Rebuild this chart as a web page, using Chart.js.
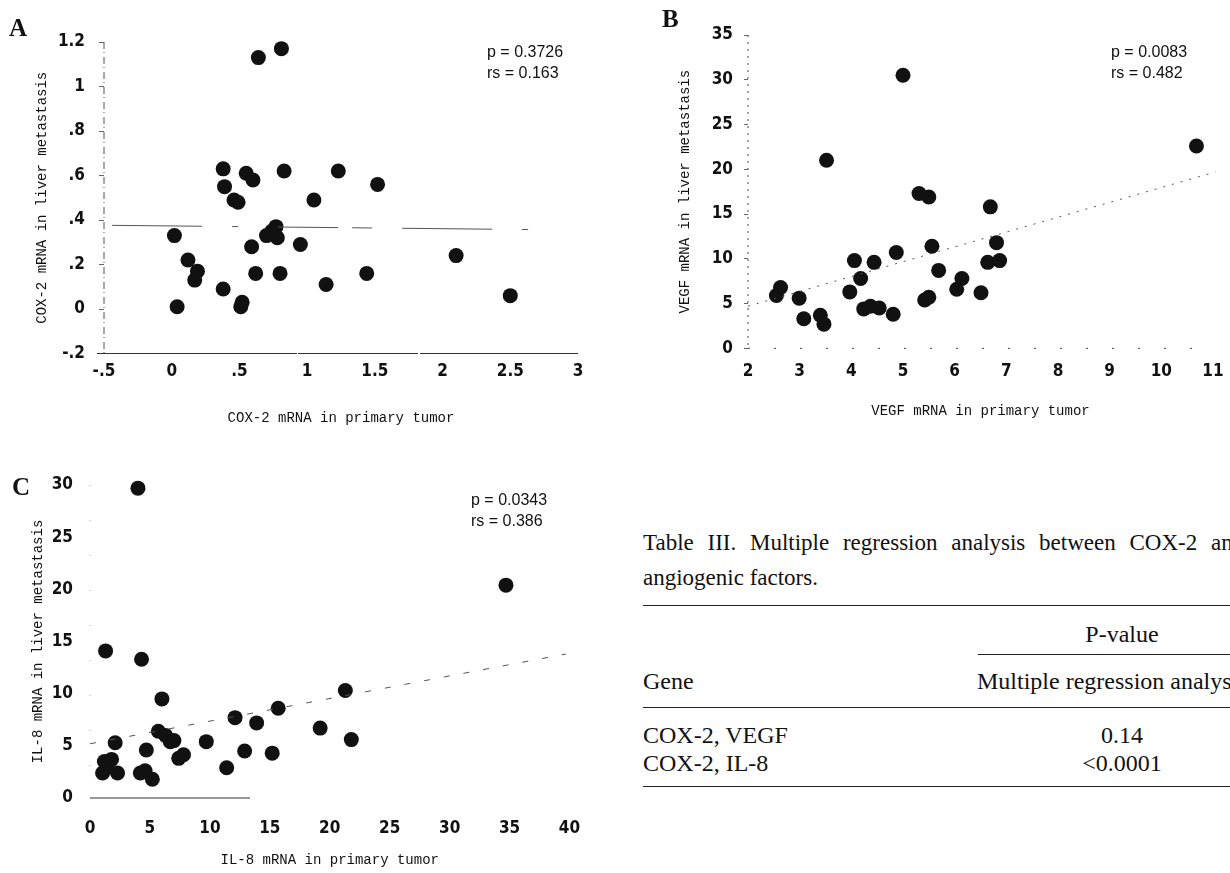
<!DOCTYPE html>
<html>
<head>
<meta charset="utf-8">
<title>COX-2, VEGF and IL-8 mRNA: primary tumor vs liver metastasis</title>
<script src="https://cdn.jsdelivr.net/npm/chart.js@4.4.1/dist/chart.umd.min.js"></script>
<style>
  body { margin: 0; background: #fff; }
  #page { position: relative; width: 1230px; height: 873px; overflow: hidden; background: #fff; color: #111; }
  canvas { position: absolute; }
  .letter { position: absolute; font-family: 'Liberation Serif', 'Times New Roman', serif; font-weight: bold; font-size: 25px; line-height: 25px; }
  .stat { position: absolute; font-family: 'Liberation Sans', Arial, sans-serif; font-size: 16px; line-height: 21px; white-space: pre; }
  .tbl { position: absolute; font-family: 'Liberation Serif', 'Times New Roman', serif; font-size: 24px; line-height: 28px; white-space: nowrap; }
  .caption { font-size: 23px; line-height: 26px; }
  .justified { word-spacing: 8px; }
  .center { width: 200px; text-align: center; }
  .rule { position: absolute; height: 0; border-top: 1.3px solid #222; }
</style>
</head>
<body>
<div id="page">
  <canvas id="chartA" width="600" height="440" style="left:0;top:0"></canvas>
  <canvas id="chartB" width="610" height="440" style="left:620px;top:0"></canvas>
  <canvas id="chartC" width="600" height="433" style="left:0;top:440px"></canvas>

  <div class="letter" style="left:9px;top:15px">A</div>
  <div class="letter" style="left:662px;top:6px">B</div>
  <div class="letter" style="left:12px;top:474px">C</div>

  <div class="stat" style="left:487px;top:41px">p = 0.3726
rs = 0.163</div>
  <div class="stat" style="left:1111px;top:41px">p = 0.0083
rs = 0.482</div>
  <div class="stat" style="left:471px;top:489px">p = 0.0343
rs = 0.386</div>

  <div class="tbl caption justified" style="left:643px;top:530px">Table III. Multiple regression analysis between COX-2 and</div>
  <div class="tbl caption" style="left:643px;top:565px">angiogenic factors.</div>
  <div class="rule" style="left:643px;top:605px;width:600px"></div>
  <div class="tbl center" style="left:1022px;top:620px">P-value</div>
  <div class="rule" style="left:978px;top:654px;width:260px"></div>
  <div class="tbl" style="left:643px;top:667px">Gene</div>
  <div class="tbl" style="left:977px;top:667px">Multiple regression analysis</div>
  <div class="rule" style="left:643px;top:707px;width:600px"></div>
  <div class="tbl" style="left:643px;top:721px">COX-2, VEGF</div>
  <div class="tbl center" style="left:1022px;top:721px">0.14</div>
  <div class="tbl" style="left:643px;top:749px">COX-2, IL-8</div>
  <div class="tbl center" style="left:1022px;top:749px">&lt;0.0001</div>
  <div class="rule" style="left:643px;top:786px;width:600px"></div>
</div>

<script>
// Panel A: COX-2 mRNA
const cox2Primary = [0.64, 0.81, 0.38, 0.39, 0.55, 0.60, 0.46, 0.49, 0.83, 1.23, 1.52, 1.05,
    0.02, 0.12, 0.19, 0.17, 0.38, 0.04, 0.51, 0.52, 0.59, 0.62, 0.70, 0.77, 0.78, 0.74,
    0.80, 0.95, 1.14, 1.44, 2.10, 2.50];
const cox2Liver = [1.13, 1.17, 0.63, 0.55, 0.61, 0.58, 0.49, 0.48, 0.62, 0.62, 0.56, 0.49,
    0.33, 0.22, 0.17, 0.13, 0.09, 0.01, 0.01, 0.03, 0.28, 0.16, 0.33, 0.37, 0.32, 0.35,
    0.16, 0.29, 0.11, 0.16, 0.24, 0.06];
const cox2FitX = [-0.44, 2.80];
const cox2FitY = [0.376, 0.356];
const cox2TicksX = [-0.5, 0, 0.5, 1, 1.5, 2, 2.5, 3];
const cox2LabelsX = ['-.5', '0', '.5', '1', '1.5', '2', '2.5', '3'];
const cox2TicksY = [-0.2, 0, 0.2, 0.4, 0.6, 0.8, 1, 1.2];
const cox2LabelsY = ['-.2', '0', '.2', '.4', '.6', '.8', '1', '1.2'];

// Panel B: VEGF mRNA
const vegfPrimary = [5.00, 3.52, 10.68, 5.31, 5.50, 6.69, 5.56, 6.81, 6.64, 6.87, 4.87, 4.06,
    4.44, 5.69, 4.18, 6.14, 6.04, 6.51, 3.97, 2.63, 2.55, 2.99, 3.08, 3.40, 3.47, 4.24,
    4.37, 4.54, 4.81, 5.42, 5.50];
const vegfLiver = [30.5, 21.0, 22.6, 17.3, 16.9, 15.8, 11.4, 11.8, 9.6, 9.8, 10.7, 9.8,
    9.6, 8.7, 7.8, 7.8, 6.6, 6.2, 6.3, 6.8, 5.9, 5.6, 3.3, 3.7, 2.7, 4.4,
    4.7, 4.5, 3.8, 5.4, 5.7];
const vegfFitX = [2, 11.05];
const vegfFitY = [4.7, 19.7];
const vegfTicksX = [2, 3, 4, 5, 6, 7, 8, 9, 10, 11];
const vegfTicksY = [0, 5, 10, 15, 20, 25, 30, 35];

// Panel C: IL-8 mRNA
const il8Primary = [4.0, 34.7, 1.3, 4.3, 21.3, 6.0, 15.7, 12.1, 13.9, 19.2, 5.7, 6.3,
    6.7, 7.0, 2.1, 9.7, 21.8, 4.7, 12.9, 15.2, 7.4, 7.8, 11.4, 1.2, 1.8, 1.4,
    1.05, 2.3, 4.2, 4.6, 5.2];
const il8Liver = [29.7, 20.4, 14.1, 13.3, 10.3, 9.5, 8.6, 7.7, 7.2, 6.7, 6.4, 6.0,
    5.4, 5.5, 5.3, 5.4, 5.6, 4.6, 4.5, 4.3, 3.8, 4.15, 2.9, 3.5, 3.7, 2.9,
    2.4, 2.4, 2.4, 2.6, 1.8];
const il8FitX = [0, 39.7];
const il8FitY = [5.2, 13.8];
const il8TicksX = [0, 5, 10, 15, 20, 25, 30, 35, 40];
const il8TicksY = [0, 5, 10, 15, 20, 25, 30];

const tickFont = { family: "'Liberation Sans Narrow', 'DejaVu Sans Condensed', 'Arial Narrow', sans-serif", size: 17, weight: 'bold' };
const titleFont = { family: "'Liberation Mono', 'DejaVu Sans Mono', monospace", size: 14 };

// the scanned axes are dashed / dotted, Chart.js border has no dash, so stroke them here
const axisLines = {
    id: 'axisLines',
    beforeDatasetsDraw(chart, args, opts) {
        const ctx = chart.ctx;
        const a = chart.chartArea;
        const lines = [
            [opts.y, a.left, a.top, a.left, a.bottom],
            [opts.x, a.left - (opts.x && opts.x.overhang || 0), a.bottom, a.right, a.bottom]
        ];
        ctx.save();
        lines.forEach(([style, x1, y1, x2, y2]) => {
            if (!style) return;
            ctx.strokeStyle = style.color;
            ctx.lineWidth = style.width || 1;
            ctx.setLineDash(style.dash || []);
            ctx.beginPath();
            ctx.moveTo(x1, y1);
            ctx.lineTo(x2, y2);
            ctx.stroke();
        });
        ctx.restore();
    }
};

function toPoints(xs, ys) {
    return xs.map((x, i) => ({ x: x, y: ys[i] }));
}

function makeAxis(o) {
    const horizontal = o.horizontal;
    return {
        type: 'linear',
        position: horizontal ? 'bottom' : 'left',
        min: o.values[0],
        max: o.values[o.values.length - 1],
        afterBuildTicks: (scale) => {
            scale.ticks = o.values.map(v => ({ value: v }));
        },
        afterFit: (scale) => {
            if (horizontal) scale.height = o.size; else scale.width = o.size;
            scale.paddingLeft = scale.paddingRight = scale.paddingTop = scale.paddingBottom = 0;
        },
        grid: {
            display: true,
            drawOnChartArea: false,
            drawTicks: o.tickLen > 0,
            tickLength: o.tickLen,
            tickColor: '#666'
        },
        border: { display: false },
        ticks: {
            autoSkip: false,
            maxRotation: 0,
            minRotation: 0,
            padding: o.tickPad,
            color: '#111',
            font: tickFont,
            callback: (value, index) => o.labels ? o.labels[index] : String(o.values[index])
        },
        title: {
            display: true,
            text: o.title,
            color: '#111',
            font: titleFont,
            padding: horizontal ? { top: 2, bottom: o.titlePad } : { top: o.titlePad, bottom: 2 }
        }
    };
}

function buildPanel(id, p) {
    const ctx = document.getElementById(id).getContext('2d');
    return new Chart(ctx, {
        type: 'scatter',
        data: {
            datasets: [
                {
                    type: 'line',
                    data: toPoints(p.fitX, p.fitY),
                    borderColor: '#555',
                    borderWidth: 1,
                    borderDash: p.fitDash,
                    pointRadius: 0,
                    fill: false,
                    clip: false
                },
                {
                    data: toPoints(p.xs, p.ys),
                    pointRadius: 7.5,
                    pointHoverRadius: 7.5,
                    backgroundColor: '#111',
                    borderWidth: 0,
                    clip: false
                }
            ]
        },
        options: {
            responsive: false,
            animation: false,
            devicePixelRatio: 1,
            layout: { padding: p.padding },
            events: [],
            plugins: {
                legend: { display: false },
                tooltip: { enabled: false },
                axisLines: p.axes
            },
            scales: { x: makeAxis(p.x), y: makeAxis(p.y) }
        },
        plugins: [axisLines]
    });
}

buildPanel('chartA', {
    xs: cox2Primary, ys: cox2Liver, fitX: cox2FitX, fitY: cox2FitY,
    fitDash: [90, 30, 6, 40, 60, 14, 20, 30],
    padding: { top: 42, right: 22, left: 0, bottom: 0 },
    axes: { x: { color: '#333', dash: [200, 1, 120, 2], overhang: 7 }, y: { color: '#555', dash: [7, 3, 1, 4] } },
    x: { horizontal: true, values: cox2TicksX, labels: cox2LabelsX, size: 86.5, tickLen: 0, tickPad: 8,
         title: 'COX-2 mRNA in primary tumor', titlePad: 13.6 },
    y: { horizontal: false, values: cox2TicksY, labels: cox2LabelsY, size: 104, tickLen: 5, tickPad: 14,
         title: 'COX-2 mRNA in liver metastasis', titlePad: 33.6 }
});

buildPanel('chartB', {
    xs: vegfPrimary, ys: vegfLiver, fitX: vegfFitX, fitY: vegfFitY,
    fitDash: [2, 7],
    padding: { top: 35, right: 17, left: 0, bottom: 0 },
    axes: { x: { color: '#444', dash: [2, 24] }, y: { color: '#444', dash: [2, 5] } },
    x: { horizontal: true, values: vegfTicksX, size: 91.7, tickLen: 0, tickPad: 13,
         title: 'VEGF mRNA in primary tumor', titlePad: 19.9 },
    y: { horizontal: false, values: vegfTicksY, size: 128, tickLen: 4, tickPad: 11,
         title: 'VEGF mRNA in liver metastasis', titlePad: 56.6 }
});

buildPanel('chartC', {
    xs: il8Primary, ys: il8Liver, fitX: il8FitX, fitY: il8FitY,
    fitDash: [6, 14],
    padding: { top: 45, right: 30.5, left: 0, bottom: 0 },
    axes: { x: { color: '#333', dash: [160, 2000] }, y: { color: '#aaa', dash: [1, 34] } },
    x: { horizontal: true, values: il8TicksX, size: 75, tickLen: 0, tickPad: 20,
         title: 'IL-8 mRNA in primary tumor', titlePad: 4.6 },
    y: { horizontal: false, values: il8TicksY, size: 90, tickLen: 0, tickPad: 17,
         title: 'IL-8 mRNA in liver metastasis', titlePad: 29.6 }
});
</script>
</body>
</html>
